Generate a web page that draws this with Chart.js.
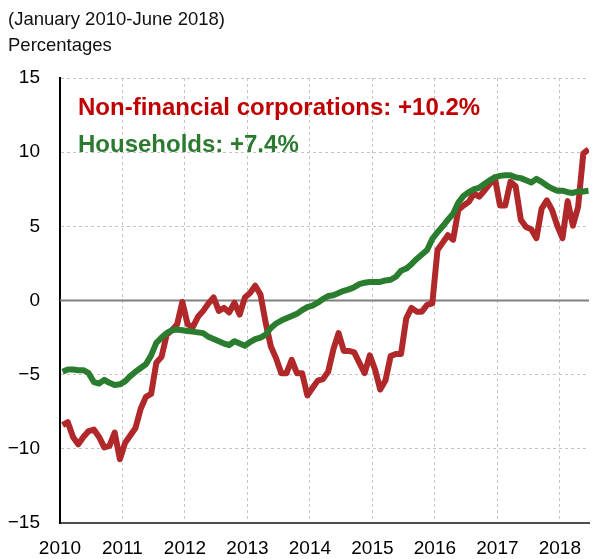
<!DOCTYPE html>
<html>
<head>
<meta charset="utf-8">
<script src="https://cdn.jsdelivr.net/npm/chart.js@4.4.1/dist/chart.umd.min.js"></script>
<style>
  html, body { margin: 0; padding: 0; background: #fff; overflow: hidden; }
  #wrap { position: relative; width: 595px; height: 559px; }
</style>
</head>
<body>
<div id="wrap"><canvas id="chart" width="595" height="559"></canvas></div>
<script>
// Crédito: taxa de variação anual, jan/2010 a jun/2018 (valores mensais em %)
const yearLabels = ['2010', '2011', '2012', '2013', '2014', '2015', '2016', '2017', '2018'];
const headerLines = ['(January 2010-June 2018)', 'Percentages'];
const seriesLabels = ['Non-financial corporations: +10.2%', 'Households: +7.4%'];

const nfcValues = [
  -8.4, -8.2, -9.2, -9.7, -9.2, -8.8, -8.7, -9.2, -9.9, -9.8, -8.9, -10.7,
  -9.6, -9.1, -8.6, -7.3, -6.5, -6.3, -4.2, -3.8, -2.3, -2.0, -1.6, -0.1,
  -1.6, -1.8, -1.1, -0.7, -0.2, 0.2, -0.7, -0.5, -0.8, -0.15, -0.95, 0.2,
  0.5, 1.0, 0.4, -1.5, -3.1, -3.9, -4.9, -4.9, -4.0, -4.9, -4.9, -6.4,
  -5.9, -5.4, -5.3, -4.8, -3.3, -2.2, -3.4, -3.4, -3.5, -4.2, -4.9, -3.7,
  -4.65, -6.0, -5.4, -3.75, -3.6, -3.6, -1.2, -0.5, -0.75, -0.75, -0.3, -0.2,
  3.4, 3.9, 4.4, 4.1, 6.1, 6.4, 6.65, 7.2, 7.0, 7.4, 7.85, 8.3,
  6.4, 6.4, 8.0, 7.7, 5.45, 4.95, 4.8, 4.2, 6.2, 6.75, 6.1, 5.05,
  4.2, 6.7, 5.05, 6.3, 9.9, 10.2,
];

const householdValues = [
  -4.8, -4.65, -4.65, -4.7, -4.7, -4.9, -5.5, -5.6, -5.35, -5.55, -5.7, -5.65,
  -5.45, -5.1, -4.8, -4.55, -4.3, -3.7, -2.85, -2.5, -2.2, -2.0, -1.95, -2.0,
  -2.05, -2.1, -2.15, -2.2, -2.45, -2.6, -2.75, -2.9, -3.0, -2.75, -2.9, -3.05,
  -2.8, -2.6, -2.5, -2.3, -1.85, -1.55, -1.35, -1.2, -1.05, -0.9, -0.65, -0.45,
  -0.35, -0.15, 0.1, 0.3, 0.35, 0.5, 0.65, 0.75, 0.9, 1.1, 1.2, 1.25,
  1.25, 1.25, 1.35, 1.4, 1.6, 2.0, 2.15, 2.45, 2.8, 3.1, 3.4, 4.15,
  4.6, 5.0, 5.45, 5.85, 6.6, 7.05, 7.3, 7.5, 7.6, 7.85, 8.1, 8.3,
  8.4, 8.45, 8.45, 8.3, 8.25, 8.1, 7.95, 8.2, 8.0, 7.75, 7.55, 7.4,
  7.4, 7.3, 7.25, 7.35, 7.35, 7.4,
];

const RED_LINE = '#b0282a';
const GREEN_LINE = '#2a7d2e';
const RED_TEXT = '#c00000';
const GREEN_TEXT = '#2b7a2f';
const GRID = '#c4c4c4';
const TICK_FONT = { family: "'Liberation Sans', Arial, sans-serif", size: 19 };

// cada mês fica no meio do seu intervalo no eixo (jan/2010 = 0.5)
const toPoints = (values) => values.map((v, i) => ({ x: i + 0.5, y: v }));

const fmtTick = (v) => (v < 0 ? '\u2212' + Math.abs(v) : String(v));

// linha do zero + textos (cabeçalho e rótulos das séries)
const overlay = {
  id: 'overlay',
  beforeDatasetsDraw(chart) {
    const { ctx, chartArea, scales } = chart;
    const y0 = scales.y.getPixelForValue(0);
    ctx.save();
    ctx.strokeStyle = '#808080';
    ctx.lineWidth = 2;
    ctx.beginPath();
    ctx.moveTo(chartArea.left, y0);
    ctx.lineTo(chartArea.right, y0);
    ctx.stroke();
    ctx.restore();
  },
  afterDraw(chart) {
    const { ctx } = chart;
    ctx.save();
    ctx.textAlign = 'left';
    ctx.textBaseline = 'alphabetic';
    ctx.fillStyle = '#111';
    ctx.font = "18.5px 'Liberation Sans', Arial, sans-serif";
    ctx.fillText(headerLines[0], 8, 25);
    ctx.fillText(headerLines[1], 8, 51);

    ctx.font = "bold 24px 'Liberation Sans', Arial, sans-serif";
    ctx.fillStyle = RED_TEXT;
    ctx.fillText(seriesLabels[0], 78, 115);
    ctx.fillStyle = GREEN_TEXT;
    ctx.fillText(seriesLabels[1], 78, 152);
    ctx.restore();
  },
};

new Chart(document.getElementById('chart'), {
  type: 'line',
  data: {
    datasets: [
      {
        label: 'Households',
        data: toPoints(householdValues),
        borderColor: GREEN_LINE,
        borderWidth: 6,
        pointRadius: 0,
        tension: 0,
        borderJoinStyle: 'round',
      },
      {
        label: 'Non-financial corporations',
        data: toPoints(nfcValues),
        borderColor: RED_LINE,
        borderWidth: 6,
        pointRadius: 0,
        tension: 0,
        borderJoinStyle: 'round',
      },
    ],
  },
  options: {
    responsive: false,
    animation: false,
    devicePixelRatio: 1,
    layout: { padding: { top: 78, left: 0, right: 0, bottom: 0 } },
    plugins: {
      legend: { display: false },
      tooltip: { enabled: false },
    },
    scales: {
      x: {
        type: 'linear',
        min: 0,
        max: 101.6,
        afterBuildTicks: (s) => { s.ticks = yearLabels.map((_, k) => ({ value: k * 12 })); },
        afterFit: (s) => { s.height = 36; },
        ticks: {
          autoSkip: false,
          maxRotation: 0,
          padding: 14,
          color: '#000',
          font: TICK_FONT,
          callback: (v) => yearLabels[Math.round(v / 12)],
        },
        grid: {
          drawTicks: false,
          lineWidth: 1,
          color: (ctx) => (ctx.tick && ctx.tick.value === 0 ? 'rgba(0,0,0,0)' : GRID),
        },
        border: { display: true, color: '#4d4d4d', width: 2, dash: [3, 3] },
      },
      y: {
        min: -15,
        max: 15,
        afterFit: (s) => { s.width = 60; },
        ticks: {
          stepSize: 5,
          padding: 20,
          color: '#000',
          font: TICK_FONT,
          callback: fmtTick,
        },
        grid: {
          drawTicks: false,
          lineWidth: 1,
          color: (ctx) => {
            const v = ctx.tick && ctx.tick.value;
            return v === 0 || v === -15 ? 'rgba(0,0,0,0)' : GRID;
          },
        },
        border: { display: true, color: '#000', width: 2, dash: [3, 3] },
      },
    },
  },
  plugins: [overlay],
});
</script>
</body>
</html>
